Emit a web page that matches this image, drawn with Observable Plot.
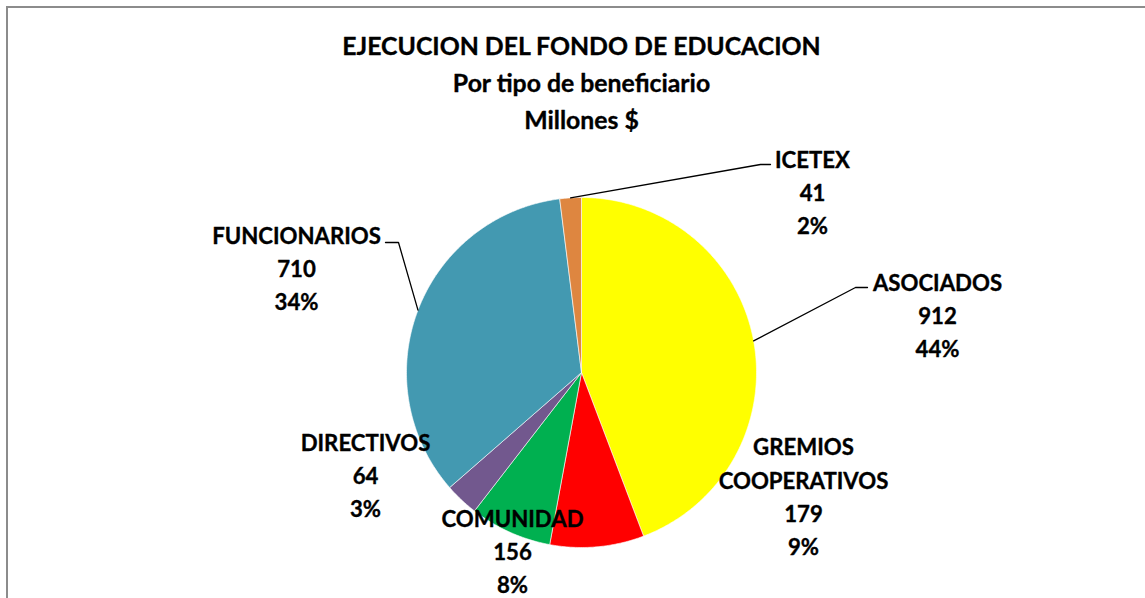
<!DOCTYPE html>
<html>
<head>
<meta charset="utf-8">
<script src="https://cdn.jsdelivr.net/npm/d3@7"></script>
<script src="https://cdn.jsdelivr.net/npm/@observablehq/plot@0.6"></script>
<style>
  html, body { margin: 0; padding: 0; background: #fff; overflow: hidden; }
  #wrap { position: relative; width: 1145px; height: 598px; }
  #frame { position: absolute; left: 6px; top: 6px; width: 1200px; height: 700px;
           border-left: 2px solid #8c8c8c; border-top: 2px solid #8c8c8c; pointer-events: none; }
  #chart { position: absolute; left: 0; top: 0; }
</style>
</head>
<body>
<div id="wrap"><div id="chart"></div><div id="frame"></div></div>
<script>
// ---- data ----
const categories = ["ASOCIADOS", "GREMIOS\nCOOPERATIVOS", "COMUNIDAD", "DIRECTIVOS", "FUNCIONARIOS", "ICETEX"];
const values = [912, 179, 156, 64, 710, 41];
const percentLabels = ["44%", "9%", "8%", "3%", "34%", "2%"];
const titleLines = ["EJECUCION DEL FONDO DE EDUCACION", "Por tipo de beneficiario", "Millones $"];
const colors = ["#ffff00", "#ff0000", "#00b050", "#72588e", "#4399b1", "#de8640"];

// ---- layout ----
const W = 1145, H = 598;
const cx = 581, cy = 372, R = 175;
// label centre offsets from pie centre, elbow/end of leader lines (null = no leader)
const labelLayout = [
  {dx: 356, dy: -59, lead: [[274, -85], [286, -85]]},
  {dx: 222, dy: 122, lead: null},
  {dx: -69, dy: 177, lead: null},
  {dx: -216, dy: 101, lead: null},
  {dx: -285, dy: -106, lead: [[-183, -130], [-196, -130]]},
  {dx: 231, dy: -182, lead: [[179, -208], [189, -208]]}
];
const FONT = "Lato, Carlito, Calibri, sans-serif";

const pie = d3.pie().sort(null).value(d => d.value);
const data = categories.map((c, i) => ({name: c, value: values[i], pct: percentLabels[i], color: colors[i]}));
const arcs = pie(data);

const polar = (a, r) => [cx + r * Math.sin(a), cy - r * Math.cos(a)];

// slice polygons
const slicePts = [];
arcs.forEach(a => {
  const n = Math.max(2, Math.ceil((a.endAngle - a.startAngle) / 0.01));
  slicePts.push({name: a.data.name, x: cx, y: cy});
  for (let k = 0; k <= n; k++) {
    const t = a.startAngle + (a.endAngle - a.startAngle) * k / n;
    const [x, y] = polar(t, R);
    slicePts.push({name: a.data.name, x, y});
  }
  slicePts.push({name: a.data.name, x: cx, y: cy});
});

// leader lines
const leaderPts = [];
arcs.forEach((a, i) => {
  const L = labelLayout[i].lead;
  if (!L) return;
  const mid = (a.startAngle + a.endAngle) / 2;
  const [x0, y0] = polar(mid, R);
  leaderPts.push({name: a.data.name, x: x0, y: y0});
  L.forEach(p => leaderPts.push({name: a.data.name, x: cx + p[0], y: cy + p[1]}));
});

// labels
const labels = arcs.map((a, i) => ({
  x: cx + labelLayout[i].dx,
  y: cy + labelLayout[i].dy,
  text: `${a.data.name}\n${a.data.value}\n${a.data.pct}`
}));

const titles = titleLines.map((t, i) => ({x: cx, y: 47 + i * 37, text: t}));

const chart = Plot.plot({
  width: W, height: H, margin: 0,
  x: {domain: [0, W], range: [0, W], axis: null},
  y: {domain: [0, H], range: [0, H], axis: null},
  color: {domain: categories, range: colors},
  style: {background: "transparent"},
  marks: [
    Plot.line(slicePts, {x: "x", y: "y", z: "name", fill: "name", stroke: "#ffffff", strokeWidth: 0.6, curve: "linear"}),
    Plot.line(leaderPts, {x: "x", y: "y", z: "name", stroke: "#000", strokeWidth: 1.3}),
    Plot.text(labels, {x: "x", y: "y", text: "text", fontSize: 22.2, fontWeight: "bold", fontFamily: FONT,
      fill: "#000", stroke: "#000", strokeWidth: 0.35, lineHeight: 1.49, textAnchor: "middle", lineAnchor: "middle"}),
    Plot.text(titles, {x: "x", y: "y", text: "text", fontSize: 24.8, fontWeight: "bold", fontFamily: FONT,
      fill: "#000", stroke: "#000", strokeWidth: 0.35, textAnchor: "middle", lineAnchor: "middle"})
  ]
});
document.getElementById("chart").appendChild(chart);
</script>
</body>
</html>
